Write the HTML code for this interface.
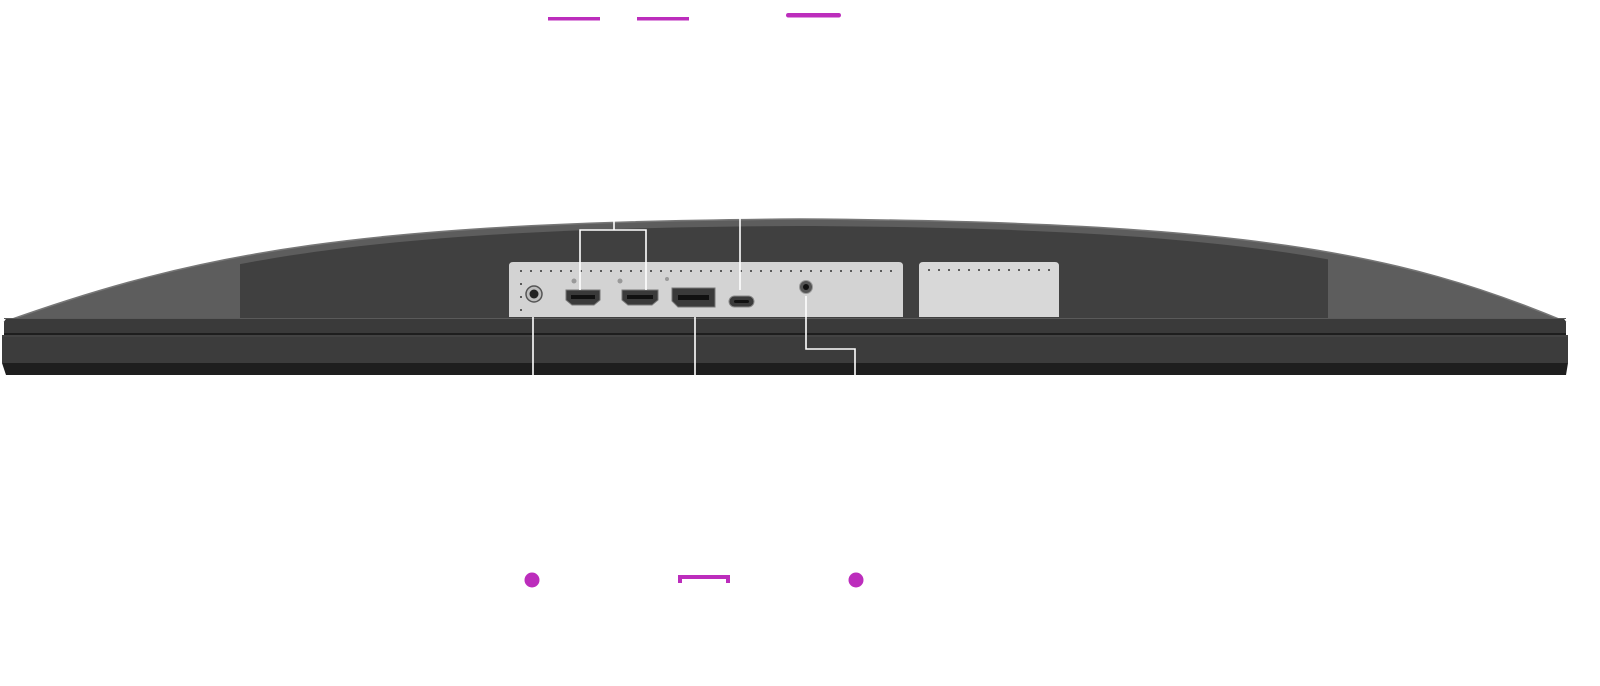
<!DOCTYPE html>
<html><head><meta charset="utf-8"><style>
html,body{margin:0;padding:0;background:#fff;width:1600px;height:686px;overflow:hidden}
svg{display:block}
</style></head><body>
<svg width="1600" height="686" viewBox="0 0 1600 686" xmlns="http://www.w3.org/2000/svg">
<defs>
<clipPath id="rc"><rect x="240" y="200" width="1088" height="118"/></clipPath>
</defs>
<!-- shell top -->
<path d="M4,322 C200,252 360,222 800,219 C1240,222 1400,252 1566,322 L1566,330 L4,330 Z" fill="#5d5d5d"/>
<path d="M4,322 C200,252 360,222 800,219 C1240,222 1400,252 1566,322" fill="none" stroke="#777" stroke-width="1.5"/>
<!-- recess -->
<path d="M4,330 C200,260 360,228 800,226 C1240,228 1400,260 1566,330 Z" fill="#404040" clip-path="url(#rc)"/>
<!-- front bar -->
<path d="M8,318 L1562,318 Q1566,319 1566,324 L1566,333 L4,333 L4,324 Q4,319 8,318 Z" fill="#3a3a3a"/>
<line x1="4" y1="318.5" x2="1566" y2="318.5" stroke="#5a5a5a" stroke-width="1"/>
<rect x="4" y="333" width="1562" height="2" fill="#1e1e1e"/>
<rect x="2" y="335" width="1566" height="28" fill="#3c3c3c"/>
<line x1="2" y1="336" x2="1568" y2="336" stroke="#4a4a4a"/>
<path d="M2,363 L1568,363 L1566,375 L6,375 Z" fill="#1e1e1e"/>
<!-- port panels -->
<path d="M513,262 L899,262 Q903,262 903,266 L903,317 L509,317 L509,266 Q509,262 513,262 Z" fill="#d3d3d3"/>
<path d="M923,262 L1055,262 Q1059,262 1059,266 L1059,317 L919,317 L919,266 Q919,262 923,262 Z" fill="#d8d8d8"/>
<g fill="#333">
<circle cx="521" cy="271" r="1"/><circle cx="531" cy="271" r="1"/><circle cx="541" cy="271" r="1"/><circle cx="551" cy="271" r="1"/><circle cx="561" cy="271" r="1"/><circle cx="571" cy="271" r="1"/><circle cx="581" cy="271" r="1"/><circle cx="591" cy="271" r="1"/><circle cx="601" cy="271" r="1"/><circle cx="611" cy="271" r="1"/><circle cx="621" cy="271" r="1"/><circle cx="631" cy="271" r="1"/><circle cx="641" cy="271" r="1"/><circle cx="651" cy="271" r="1"/><circle cx="661" cy="271" r="1"/><circle cx="671" cy="271" r="1"/><circle cx="681" cy="271" r="1"/><circle cx="691" cy="271" r="1"/><circle cx="701" cy="271" r="1"/><circle cx="711" cy="271" r="1"/><circle cx="721" cy="271" r="1"/><circle cx="731" cy="271" r="1"/><circle cx="741" cy="271" r="1"/><circle cx="751" cy="271" r="1"/><circle cx="761" cy="271" r="1"/><circle cx="771" cy="271" r="1"/><circle cx="781" cy="271" r="1"/><circle cx="791" cy="271" r="1"/><circle cx="801" cy="271" r="1"/><circle cx="811" cy="271" r="1"/><circle cx="821" cy="271" r="1"/><circle cx="831" cy="271" r="1"/><circle cx="841" cy="271" r="1"/><circle cx="851" cy="271" r="1"/><circle cx="861" cy="271" r="1"/><circle cx="871" cy="271" r="1"/><circle cx="881" cy="271" r="1"/><circle cx="891" cy="271" r="1"/>
<circle cx="929" cy="270" r="1"/><circle cx="939" cy="270" r="1"/><circle cx="949" cy="270" r="1"/><circle cx="959" cy="270" r="1"/><circle cx="969" cy="270" r="1"/><circle cx="979" cy="270" r="1"/><circle cx="989" cy="270" r="1"/><circle cx="999" cy="270" r="1"/><circle cx="1009" cy="270" r="1"/><circle cx="1019" cy="270" r="1"/><circle cx="1029" cy="270" r="1"/><circle cx="1039" cy="270" r="1"/><circle cx="1049" cy="270" r="1"/>
<circle cx="521" cy="284" r="1"/><circle cx="521" cy="297" r="1"/><circle cx="521" cy="310" r="1"/>
</g>
<!-- ports -->
<circle cx="534" cy="294" r="8" fill="#bdbdbd" stroke="#555" stroke-width="1.5"/>
<circle cx="534" cy="294" r="4.5" fill="#222"/>
<path d="M566,290 L600,290 L600,300 L594,305 L572,305 L566,300 Z" fill="#3a3a3a" stroke="#777" stroke-width="1"/>
<rect x="571" y="295" width="24" height="4" fill="#111"/>
<path d="M622,290 L658,290 L658,300 L652,305 L628,305 L622,300 Z" fill="#3a3a3a" stroke="#777" stroke-width="1"/>
<rect x="627" y="295" width="26" height="4" fill="#111"/>
<path d="M672,288 L715,288 L715,307 L678,307 L672,301 Z" fill="#3a3a3a" stroke="#777" stroke-width="1"/>
<rect x="678" y="295" width="31" height="5" fill="#111"/>
<rect x="729" y="296" width="25" height="11" rx="5.5" fill="#3a3a3a" stroke="#888" stroke-width="1"/>
<rect x="734" y="300" width="15" height="3" rx="1.5" fill="#111"/>
<circle cx="806" cy="287" r="6.5" fill="#555" stroke="#999" stroke-width="1"/>
<circle cx="806" cy="287" r="3" fill="#111"/>
<g fill="#999"><circle cx="574" cy="281" r="2.5"/><circle cx="620" cy="281" r="2.5"/><circle cx="668" cy="290" r="0"/><circle cx="667" cy="279" r="2"/></g>
<!-- white connector lines -->
<g stroke="#fff" stroke-width="1.6" fill="none">
<polyline points="614,214 614,230"/>
<polyline points="580,290 580,230 646,230 646,290"/>
<polyline points="740,183 740,290"/>
<polyline points="533,317 533,376"/>
<polyline points="695,317 695,376"/>
<polyline points="806,296 806,349 855,349 855,376"/>
</g>
<!-- purple marks -->
<g fill="#bc2dbc">
<rect x="548" y="17" width="52" height="3.5"/>
<rect x="637" y="17" width="52" height="3.5"/>
<rect x="786" y="13" width="55" height="4.5" rx="2.2"/>
<circle cx="532" cy="580" r="7.5"/>
<circle cx="856" cy="580" r="7.5"/>
<rect x="678" y="575" width="52" height="4"/>
<rect x="678" y="575" width="4" height="8"/>
<rect x="726" y="575" width="4" height="8"/>
</g>
</svg>
</body></html>
